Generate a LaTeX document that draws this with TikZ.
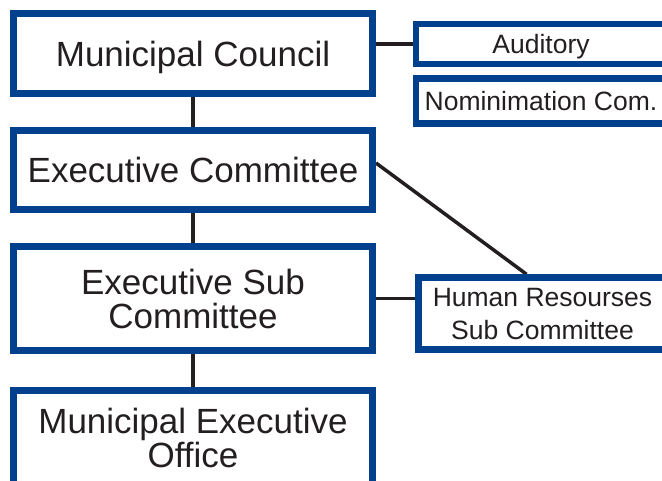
\documentclass[tikz,border=0pt]{standalone}
\usepackage{fontspec}
\setmainfont{Liberation Sans}
\usepackage{tikz}
\usetikzlibrary{positioning,backgrounds}

\definecolor{boxblue}{RGB}{0,64,140}
\definecolor{textgray}{RGB}{35,31,32}

\tikzset{
    unit/.style={draw=boxblue, line width=7pt, fill=white, text=textgray,
        align=center, inner sep=0pt, text depth=0pt, font=\fontsize{35}{34}\selectfont},
    subunit/.style={unit, line width=6.5pt, font=\fontsize{26.5}{33}\selectfont},
    link/.style={draw=textgray, line width=3.5pt}
}

\begin{document}
\begin{tikzpicture}[x=1pt,y=-1pt]
    \useasboundingbox (0,0) rectangle (662,481);
    \node[unit, minimum width=359pt, minimum height=80pt] (mc) at (193,53.5) {Municipal Council};
    \node[unit, minimum width=359pt, minimum height=79pt] (ec) at (193,170) {Executive Committee};
    \node[unit, minimum width=359pt, minimum height=104pt] (esc) at (193,298.5) {Executive Sub\\Committee};
    \node[unit, minimum width=359pt, minimum height=94pt] (meo) at (193,437.5) {Municipal Executive\\Office};
    \node[subunit, minimum width=250pt, minimum height=40pt] (aud) at (541,44) {Auditory};
    \node[subunit, minimum width=250pt, minimum height=45pt] (nom) at (541,101) {Nominimation Com.};
    \node[subunit, minimum width=248pt, minimum height=72pt] (hr) at (542.5,313.5) {Human Resourses\\Sub Committee};
    \begin{scope}[on background layer]
        \draw[link] (mc) -- (ec);
        \draw[link] (ec) -- (esc);
        \draw[link] (esc) -- (meo);
        \draw[link] (aud.west) -- (aud.west -| mc.east);
        \draw[link] (esc.east) -- (esc.east -| hr.west);
        \draw[link] ([yshift=7pt]ec.east) -- ([xshift=-16pt]hr.north);
    \end{scope}
\end{tikzpicture}
\end{document}
